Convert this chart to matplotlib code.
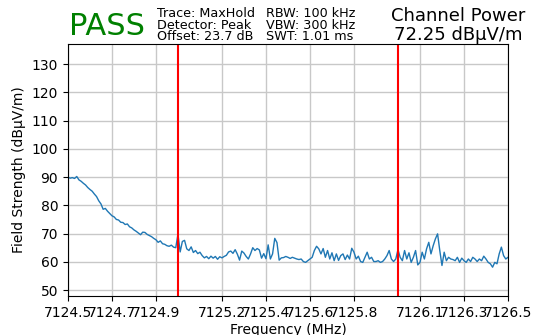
#!/usr/bin/env python
import numpy as np
import matplotlib
matplotlib.use('Agg')
import matplotlib.pyplot as plt
from matplotlib.ticker import FormatStrFormatter

# sweep: 7124.5 .. 7126.5 MHz, 201 points (10 kHz step)
f_start = 7124.5
f_stop = 7126.5
levels = [
    90.0, 89.6, 89.8, 89.5, 90.2, 89.0, 88.5, 87.8, 87.2, 86.3,
    85.6, 85.0, 84.0, 83.1, 81.6, 80.5, 78.6, 78.9, 77.9, 77.1,
    76.3, 75.9, 75.0, 74.8, 74.0, 73.9, 73.2, 73.4, 72.4, 72.0,
    71.3, 70.8, 70.2, 69.6, 70.5, 70.4, 69.7, 69.3, 68.9, 68.3,
    67.8, 66.9, 67.4, 66.4, 66.2, 65.7, 65.5, 65.9, 65.2, 65.0,
    69.8, 63.5, 67.2, 67.6, 64.6, 64.0, 65.3, 63.3, 64.0, 62.9,
    63.4, 62.2, 61.4, 61.9, 61.1, 62.0, 61.3, 61.9, 60.9, 61.8,
    61.4, 61.9, 62.3, 63.5, 63.8, 63.0, 64.3, 62.7, 60.6, 63.8,
    63.1, 61.9, 61.0, 62.8, 65.0, 64.0, 64.7, 64.2, 61.3, 62.9,
    61.1, 66.0, 61.0, 62.8, 68.3, 66.8, 60.6, 61.4, 61.5, 61.9,
    61.6, 61.2, 61.6, 61.3, 61.0, 60.8, 61.0, 60.1, 59.8, 60.4,
    61.0, 61.6, 64.0, 65.5, 64.6, 62.8, 64.7, 61.6, 64.0, 61.0,
    63.2, 60.4, 62.8, 60.5, 62.2, 62.8, 60.8, 62.4, 61.0, 64.8,
    63.4, 61.0, 62.0, 60.1, 59.8, 61.6, 63.4, 61.0, 61.6, 60.1,
    60.1, 60.4, 59.8, 60.1, 61.0, 62.2, 64.0, 61.0, 60.1, 61.0,
    64.3, 61.6, 60.4, 64.0, 61.0, 63.2, 59.8, 61.6, 64.0, 58.9,
    59.8, 63.4, 61.0, 64.6, 66.9, 62.8, 65.7, 68.1, 69.9, 64.0,
    58.7, 63.4, 60.4, 61.6, 61.0, 60.8, 60.4, 61.6, 59.8, 61.3,
    60.4, 59.8, 61.0, 60.1, 61.6, 61.0, 60.1, 61.0, 60.4, 62.0,
    61.0, 59.8, 59.3, 58.1, 59.8, 59.3, 62.8, 65.2, 62.2, 61.0,
    61.6,
]

# channel edges (MHz)
channel_edges = [7125.0, 7126.0]
xticks = [7124.5, 7124.7, 7124.9, 7125.2, 7125.4, 7125.6, 7125.8,
          7126.1, 7126.3, 7126.5]

verdict = 'PASS'
settings_left = ['Trace: MaxHold', 'Detector: Peak', 'Offset: 23.7 dB']
settings_right = ['RBW: 100 kHz', 'VBW: 300 kHz', 'SWT: 1.01 ms']
channel_power = 72.25

freqs = np.linspace(f_start, f_stop, len(levels))

fig = plt.figure(figsize=(5.35, 3.35), dpi=100)
ax = fig.add_axes([0.127, 0.1164, 0.8225, 0.7523])

ax.plot(freqs, levels, color='tab:blue', linewidth=1.0)
for edge in channel_edges:
    ax.axvline(edge, color='red', linewidth=1.5)

ax.set_xlim(f_start, f_stop)
ax.set_ylim(47.9, 137.1)
ax.set_xticks(xticks)
ax.xaxis.set_major_formatter(FormatStrFormatter('%.1f'))
ax.set_yticks(np.arange(50, 131, 10))
ax.grid(True, color='#c8c8c8', linewidth=1.0)
ax.set_xlabel('Frequency (MHz)', labelpad=2)
ax.set_ylabel('Field Strength (dBμV/m)')

# header
fig.text(69 / 535, 1 - 35 / 335, verdict, color='green', fontsize=22,
         ha='left', va='baseline')
for i, (l, r) in enumerate(zip(settings_left, settings_right)):
    y = 1 - (17 + i * 11.6) / 335
    fig.text(157 / 535, y, l, fontsize=9.2, ha='left', va='baseline')
    fig.text(266 / 535, y, r, fontsize=9.2, ha='left', va='baseline')
fig.text(458 / 535, 1 - 21 / 335, 'Channel Power', fontsize=13,
         ha='center', va='baseline')
fig.text(458 / 535, 1 - 40 / 335, f'{channel_power:.2f} dBμV/m', fontsize=13,
         ha='center', va='baseline')

fig.savefig('out.png', dpi=100)
